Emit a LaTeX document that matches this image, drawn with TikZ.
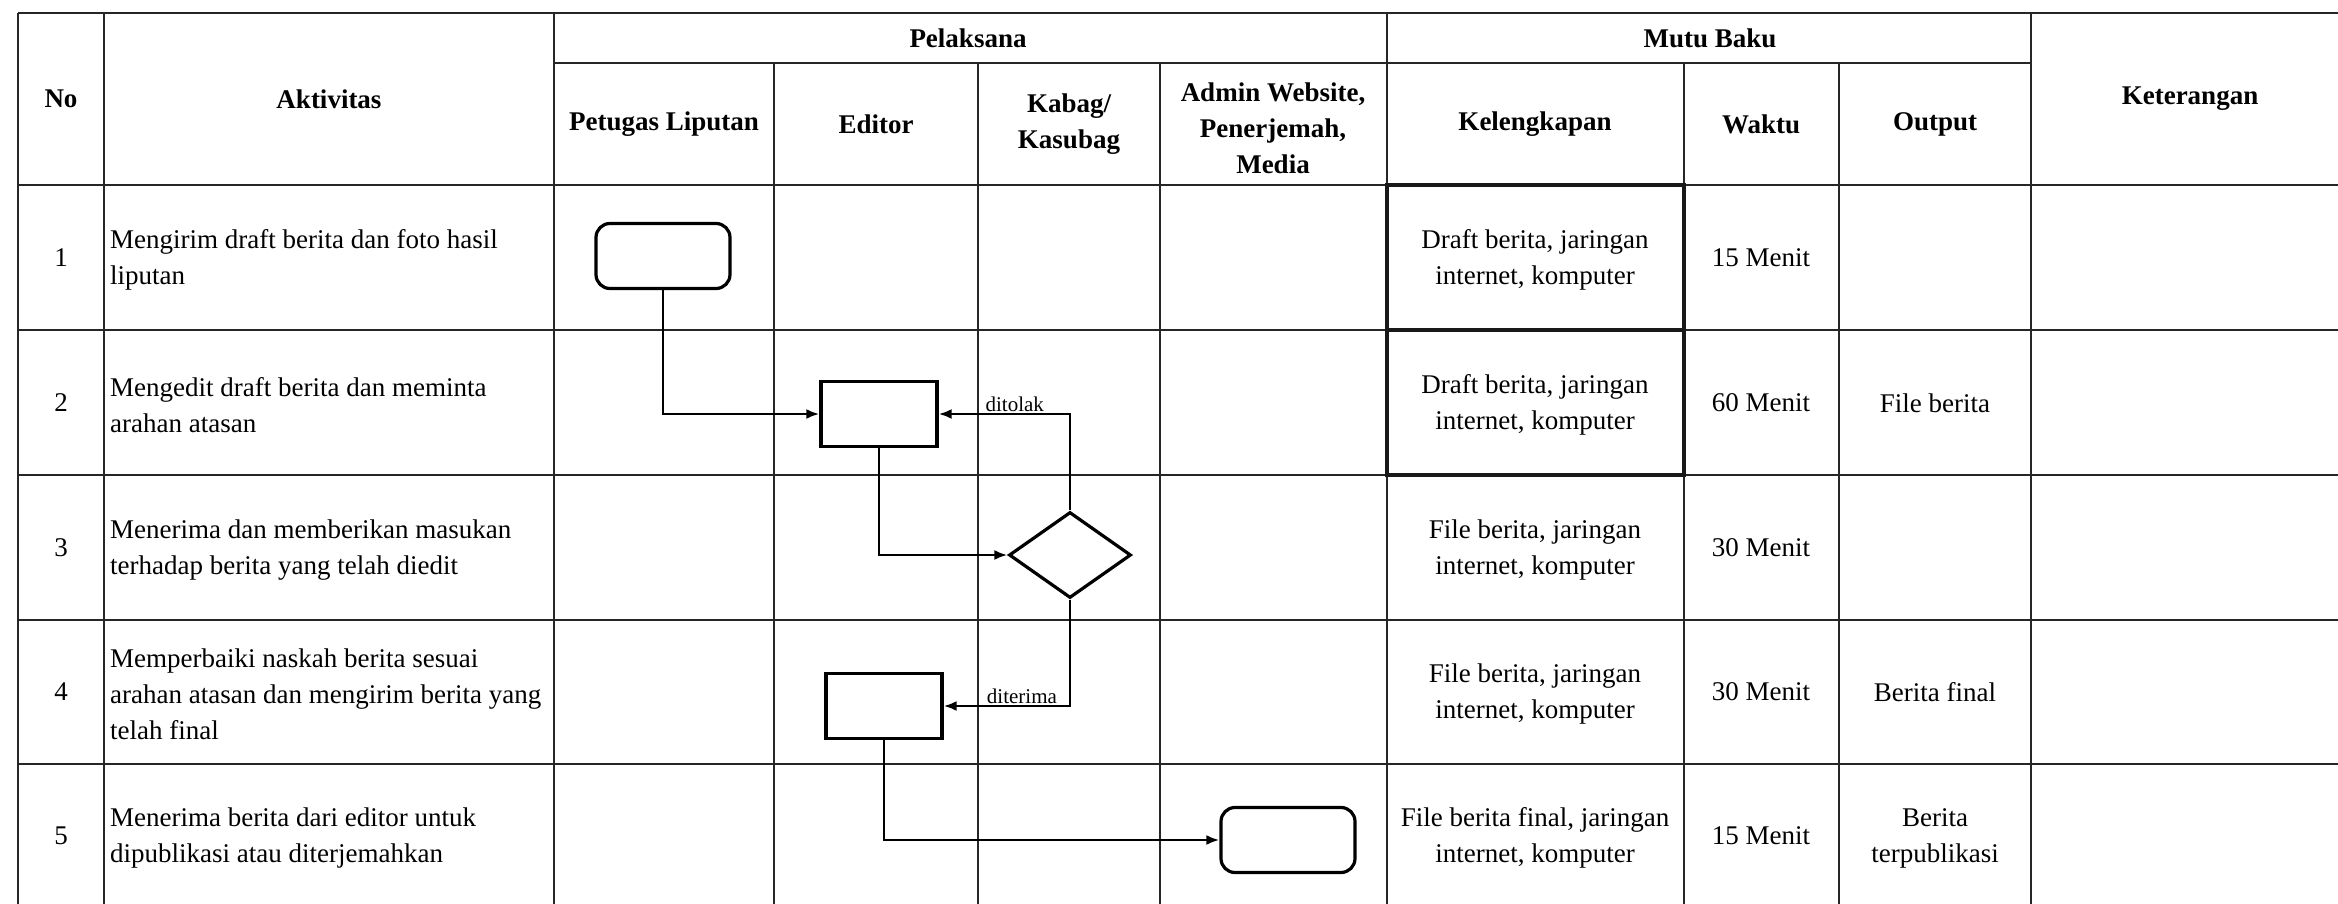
\documentclass[tikz,border=0pt]{standalone}
\usepackage{fontspec}
\setmainfont{Liberation Serif}
\usetikzlibrary{shapes.geometric,arrows.meta}

\begin{document}
\begin{tikzpicture}[x=1pt,y=-1pt,
  grid/.style={line width=2.2pt, black!85},
  thickcell/.style={line width=4.5pt, black!90},
  hd/.style={font=\fontsize{27}{36}\selectfont\bfseries, align=center, inner sep=0pt},
  tx/.style={font=\fontsize{27}{36}\selectfont, align=center, inner sep=0pt},
  act/.style={font=\fontsize{27}{36}\selectfont, align=left, anchor=west, inner sep=0pt},
  term/.style={draw, line width=3.2pt, rounded corners=14pt, minimum width=134pt, minimum height=65pt, inner sep=0pt},
  proc/.style={draw, line width=3.2pt, minimum width=116pt, minimum height=65pt, inner sep=0pt},
  dec/.style={draw, diamond, line width=3.2pt, minimum width=122pt, minimum height=86pt, inner sep=0pt},
  flow/.style={line width=2.6pt, -{Latex[length=13pt,width=10pt]}},
  lbl/.style={font=\fontsize{21}{24}\selectfont, inner sep=1pt, anchor=south}
]
% canvas
\fill[white] (0,0) rectangle (2338,904);
\useasboundingbox (0,0) rectangle (2338,904);

% table rules
\draw[grid] (18,13) -- (2338,13);
\draw[grid] (554,63) -- (2031,63);
\foreach \y in {185,330,475,620,764} \draw[grid] (18,\y) -- (2338,\y);
\foreach \x in {18,104,554,1387,2031} \draw[grid] (\x,13) -- (\x,904);
\foreach \x in {774,978,1160,1684,1839} \draw[grid] (\x,63) -- (\x,904);

% emphasised Kelengkapan cells
\draw[thickcell] (1387,185) rectangle (1684,475);
\draw[thickcell] (1387,330) -- (1684,330);

% header
\node[hd] (hNo) at (61,99) {No};
\node[hd] (hAkt) at (329,99) {Aktivitas};
\node[hd] (hPel) at (968,38) {Pelaksana};
\node[hd] (hMutu) at (1710,38) {Mutu Baku};
\node[hd] (hKet) at (2190,99) {Keterangan};
\node[hd] (hPet) at (664,124) {Petugas Liputan};
\node[hd] (hEd) at (876,124) {Editor};
\node[hd] (hKab) at (1069,124) {Kabag/\\Kasubag};
\node[hd] (hAdm) at (1273,128) {Admin Website,\\Penerjemah,\\Media};
\node[hd] (hKel) at (1535,124) {Kelengkapan};
\node[hd] (hWak) at (1761,124) {Waktu};
\node[hd] (hOut) at (1935,124) {Output};

% row numbers
\node[tx] (no1) at (61,258) {1};
\node[tx] (no2) at (61,403) {2};
\node[tx] (no3) at (61,548) {3};
\node[tx] (no4) at (61,692) {4};
\node[tx] (no5) at (61,836) {5};

% activities
\node[act] (a1) at (110,260) {Mengirim draft berita dan foto hasil\\liputan};
\node[act] (a2) at (110,405) {Mengedit draft berita dan meminta\\arahan atasan};
\node[act] (a3) at (110,550) {Menerima dan memberikan masukan\\terhadap berita yang telah diedit};
\node[act] (a4) at (110,694) {Memperbaiki naskah berita sesuai\\arahan atasan dan mengirim berita yang\\telah final};
\node[act] (a5) at (110,838) {Menerima berita dari editor untuk\\dipublikasi atau diterjemahkan};

% kelengkapan
\node[tx] (k1) at (1535,260) {Draft berita, jaringan\\internet, komputer};
\node[tx] (k2) at (1535,405) {Draft berita, jaringan\\internet, komputer};
\node[tx] (k3) at (1535,550) {File berita, jaringan\\internet, komputer};
\node[tx] (k4) at (1535,694) {File berita, jaringan\\internet, komputer};
\node[tx] (k5) at (1535,838) {File berita final, jaringan\\internet, komputer};

% waktu
\node[tx] (w1) at (1761,258) {15 Menit};
\node[tx] (w2) at (1761,403) {60 Menit};
\node[tx] (w3) at (1761,548) {30 Menit};
\node[tx] (w4) at (1761,692) {30 Menit};
\node[tx] (w5) at (1761,836) {15 Menit};

% output
\node[tx] (o2) at (1935,403) {File berita};
\node[tx] (o4) at (1935,692) {Berita final};
\node[tx] (o5) at (1935,838) {Berita\\terpublikasi};

% flow shapes
\node[term] (n1) at (663,256) {};
\node[proc] (n2) at (879,414) {};
\node[dec]  (n3) at (1070,555) {};
\node[proc] (n4) at (884,706) {};
\node[term] (n5) at (1288,840) {};

% connectors
\draw[flow] (n1.south) |- (n2.west);
\draw[flow] (n2.south) |- (n3.west);
\draw[flow] (n3.north) |- (n2.east) node[lbl, pos=0.71] (lTolak) {ditolak};
\draw[flow] (n3.south) |- (n4.east) node[lbl, pos=0.69] (lTerima) {diterima};
\draw[flow] (n4.south) |- (n5.west);
\end{tikzpicture}
\end{document}
